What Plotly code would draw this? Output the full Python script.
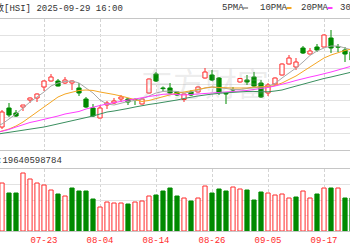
import plotly.graph_objects as go

# ---------------- data ----------------
dates = ["07-14", "07-15", "07-16", "07-17", "07-18", "07-21", "07-22", "07-23", "07-24", "07-25",
         "07-28", "07-29", "07-30", "07-31", "08-01", "08-04", "08-05", "08-06", "08-07", "08-08",
         "08-11", "08-12", "08-13", "08-14", "08-15", "08-18", "08-19", "08-20", "08-21", "08-22",
         "08-25", "08-26", "08-27", "08-28", "08-29", "09-01", "09-02", "09-03", "09-04", "09-05",
         "09-08", "09-09", "09-10", "09-11", "09-12", "09-15", "09-16", "09-17", "09-18", "09-19",
         "09-22", "09-23"]

open_ = [24725, 24300, 24775, 24650, 24800, 24975, 25025, 25300, 25450, 25450,
         25400, 25400, 25275, 25000, 24775, 24525, 24850, 24900, 25000, 25000,
         24990, 24875, 25150, 25625, 25275, 25275, 25175, 24988, 25175, 25175,
         25525, 25600, 25525, 25138, 25235, 25425, 25475, 25550, 25400, 25150,
         25375, 25600, 25875, 25800, 26275, 26125, 26300, 26300, 26525, 26308,
         26225, 26175]
close = [24675, 24675, 24600, 24575, 24850, 25025, 25125, 25450, 25550, 25325,
         25475, 25450, 25150, 24800, 24575, 24775, 24900, 24950, 25050, 24925,
         24975, 25000, 25500, 25450, 25260, 25150, 25100, 25125, 25100, 25300,
         25675, 25475, 25163, 25125, 25225, 25513, 25425, 25325, 25050, 25350,
         25525, 25875, 26025, 25925, 26150, 26200, 26225, 26600, 26275, 26295,
         26125, 25975]
high = [24775, 24725, 24900, 24725, 24850, 25038, 25138, 25463, 25625, 25500,
        25550, 25463, 25400, 25050, 24875, 24850, 24950, 25025, 25100, 25025,
        25015, 25025, 25513, 25675, 25313, 25400, 25200, 25138, 25225, 25313,
        25775, 25725, 25550, 25150, 25300, 25525, 25600, 25675, 25475, 25400,
        25538, 25888, 26100, 26025, 26325, 26275, 26375, 26613, 26725, 26375,
        26300, 26225]
low = [24625, 24250, 24550, 24550, 24700, 24900, 24925, 25200, 25438, 25313,
       25375, 25225, 25075, 24775, 24550, 24513, 24750, 24875, 24925, 24850,
       24850, 24863, 25138, 25425, 25200, 25125, 25075, 24925, 25075, 25163,
       25513, 25450, 25100, 24875, 25175, 25413, 25350, 25300, 25025, 25075,
       25363, 25588, 25863, 25725, 26125, 26113, 26175, 26288, 26150, 26175,
       25925, 25925]

ma5 = [24325, 24375, 24500, 24625, 24775, 24925, 25050, 25175, 25325, 25400,
       25438, 25450, 25400, 25275, 25150, 24975, 24875, 24850, 24900, 24938,
       24963, 25000, 25075, 25150, 25188, 25200, 25188, 25150, 25175, 25225,
       25275, 25300, 25288, 25263, 25238, 25238, 25263, 25288, 25300, 25313,
       25388, 25525, 25650, 25775, 25925, 26088, 26200, 26275, 26325, 26325,
       26275, 26225]
ma10 = [24150, 24200, 24250, 24325, 24425, 24550, 24675, 24800, 24925, 25050,
        25125, 25175, 25213, 25225, 25213, 25175, 25150, 25113, 25075, 25025,
        24975, 24938, 24963, 25013, 25063, 25113, 25150, 25175, 25200, 25238,
        25275, 25300, 25288, 25275, 25275, 25275, 25275, 25300, 25308, 25308,
        25338, 25400, 25488, 25575, 25688, 25800, 25913, 26025, 26100, 26163,
        26213, 26250]
ma20 = [24150, 24188, 24238, 24300, 24363, 24413, 24450, 24488, 24525, 24575,
        24625, 24663, 24688, 24750, 24800, 24838, 24875, 24913, 24938, 24975,
        25000, 25038, 25063, 25088, 25118, 25125, 25113, 25100, 25113, 25125,
        25138, 25143, 25150, 25163, 25175, 25200, 25213, 25238, 25258, 25288,
        25325, 25363, 25413, 25463, 25513, 25550, 25588, 25625, 25675, 25725,
        25775, 25825]
ma30 = [24113, 24138, 24163, 24188, 24213, 24238, 24263, 24300, 24338, 24375,
        24413, 24450, 24488, 24525, 24575, 24625, 24675, 24700, 24725, 24763,
        24800, 24838, 24863, 24888, 24913, 24938, 24975, 25013, 25050, 25075,
        25100, 25125, 25143, 25155, 25170, 25183, 25188, 25188, 25183, 25180,
        25200, 25225, 25275, 25325, 25375, 25425, 25475, 25513, 25550, 25588,
        25638, 25675]

# turnover, in units of 1e8
volume = [205, 240, 190, 190, 290, 260, 240, 230, 205, 185,
          175, 215, 200, 200, 160, 120, 145, 140, 140, 135,
          145, 150, 175, 180, 200, 215, 175, 165, 150, 165,
          225, 190, 210, 200, 220, 210, 205, 155, 195, 190,
          180, 185, 165, 170, 200, 165, 185, 215, 215, 215,
          165, 165]
vol_dir = ["d",
           "u", "d", "d", "u", "u", "u", "u", "u", "d", "u",
           "d", "d", "d", "d", "u", "u", "u", "u", "d", "u",
           "u", "u", "d", "d", "d", "d", "u", "d", "u", "u",
           "d", "d", "d", "u", "u", "d", "d", "d", "u", "u",
           "u", "u", "d", "u", "u", "d", "u", "d", "u", "d", "d"]

label_dates = ["07-23", "08-04", "08-14", "08-26", "09-05", "09-17"]
ma_names = ["5PMA", "10PMA", "20PMA", "30PMA"]

# ---------------- style ----------------
W, H = 350, 250
RED = "#ff2a2a"
GREEN = "#008a00"
MA_COLORS = ["#a8a8a8", "#f5a623", "#ff3cff", "#3a8f5f"]
MONO = "Liberation Mono, Noto Sans CJK SC, monospace"


def px(x):
    return x / W


def py(y):
    return 1 - y / H


xs = list(range(len(dates)))
tickpos = [dates.index(d) for d in label_dates]

fig = go.Figure()

# wicks
for up in (True, False):
    wx, wy = [], []
    for i in xs:
        o, c = open_[i], close[i]
        if (c > o) != up:
            continue
        top, bot = max(o, c), min(o, c)
        wx += [i, i, None, i, i, None]
        wy += [high[i], top, None, bot, low[i], None]
    fig.add_trace(go.Scatter(x=wx, y=wy, mode="lines", line=dict(color=RED if up else GREEN, width=1),
                             hoverinfo="skip", showlegend=False, xaxis="x", yaxis="y"))

# bodies
for up in (True, False):
    bx, bb, bh = [], [], []
    for i in xs:
        o, c = open_[i], close[i]
        if (c > o) != up:
            continue
        bx.append(i)
        bb.append(min(o, c))
        bh.append(max(abs(c - o), 6))
    fig.add_trace(go.Bar(x=bx, y=bh, base=bb, width=0.6,
                         marker=dict(color="white" if up else GREEN,
                                     line=dict(color=RED if up else GREEN, width=1)),
                         showlegend=False, xaxis="x", yaxis="y"))

# moving averages
for vals, col in zip([ma5, ma10, ma20, ma30], MA_COLORS):
    fig.add_trace(go.Scatter(x=xs, y=vals, mode="lines", line=dict(color=col, width=1),
                             showlegend=False, xaxis="x", yaxis="y"))

# volume
for d in ("u", "d"):
    vx = [i for i in xs if vol_dir[i] == d]
    vy = [volume[i] for i in vx]
    fig.add_trace(go.Bar(x=vx, y=vy, width=0.6,
                         marker=dict(color="white" if d == "u" else GREEN,
                                     line=dict(color=RED if d == "u" else GREEN, width=1)),
                         showlegend=False, xaxis="x2", yaxis="y2"))

xr = [5 / 7, 355 / 7]
axis_common = dict(range=xr, tickmode="array", tickvals=tickpos, showgrid=True,
                   gridcolor="#d4d4d4", griddash="3px,2px", gridwidth=1,
                   showline=True, mirror=True, linecolor="#c6c6c6", linewidth=1,
                   zeroline=False, ticks="")

fig.update_layout(
    width=W, height=H, margin=dict(l=0, r=0, t=0, b=0),
    paper_bgcolor="white", plot_bgcolor="white",
    barmode="overlay", showlegend=False,
    xaxis=dict(domain=[0, 1], anchor="y", showticklabels=False, **axis_common),
    yaxis=dict(domain=[py(150), py(19)], range=[23725, 27000], tick0=23725, dtick=409.375,
               showticklabels=False, gridcolor="#e2e2e2", zeroline=False, showline=False),
    xaxis2=dict(domain=[0, 1], anchor="y2", matches="x", ticktext=label_dates,
                showticklabels=True, tickfont=dict(family=MONO, size=9, color=RED),
                **axis_common),
    yaxis2=dict(domain=[py(231), py(169)], range=[0, 310], tick0=0, dtick=77.5,
                showticklabels=False, gridcolor="#e2e2e2", zeroline=False, showline=False),
)

anns = [
    dict(text="东方财富", x=px(205), y=py(82), font=dict(family="Noto Sans CJK SC", size=32,
                                                    color="rgba(160,160,160,0.2)"),
         xanchor="center", yanchor="middle"),
    dict(text="恒生指数[HSI] 2025-09-29 16:00", x=px(125), y=py(8), xanchor="right", yanchor="middle",
         font=dict(family=MONO, size=9, color="#333")),
    dict(text="成交量:19640598784", x=px(63.5), y=py(160), xanchor="right", yanchor="middle",
         font=dict(family=MONO, size=9, color="#333")),
]
legend_x = [220, 258, 299, 338]
for name, lx, col in zip(ma_names, legend_x, MA_COLORS):
    anns.append(dict(text=name, x=px(lx), y=py(8), xanchor="left", yanchor="middle",
                     font=dict(family=MONO, size=9, color="#333")))
    w = len(name) * 5.4
    fig.add_shape(type="rect", xref="paper", yref="paper",
                  x0=px(lx + w + 1.5), x1=px(lx + w + 6.5), y0=py(9), y1=py(7),
                  fillcolor=col, line=dict(width=0))
for a in anns:
    a.update(xref="paper", yref="paper", showarrow=False)
fig.update_layout(annotations=anns)

fig.write_html("out.html")
